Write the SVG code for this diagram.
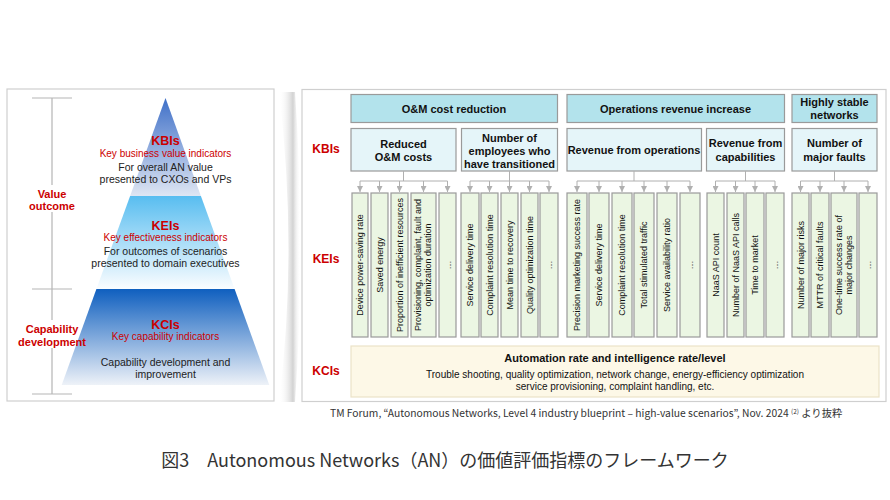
<svg xmlns="http://www.w3.org/2000/svg" width="890" height="500" viewBox="0 0 890 500">
<defs>
<style>
text{font-family:"Liberation Sans",Arial,sans-serif}
.panel{fill:#fff;stroke:#cfcfcf;stroke-width:1.2}
.red{fill:#cc0000}
.rb{fill:#cc0000;font-weight:bold}
.dk{fill:#222}
.h1{fill:#b3e3ec;stroke:#9a9a9a;stroke-width:1.2}
.h2{fill:#e5f5f9;stroke:#9a9a9a;stroke-width:1.2}
.col{fill:#ebf6e3;stroke:#9a9a9a;stroke-width:1.2}
.hb{font-size:11px;font-weight:bold;fill:#111;text-anchor:middle}
.ct{font-size:9px;fill:#111;text-anchor:middle}
.conn{fill:none;stroke:#b0b0b0;stroke-width:1}
.brk{stroke:#b5b5b5;stroke-width:1.2;fill:none}
</style>
<linearGradient id="gKBI" x1="0" y1="0" x2="0" y2="1"><stop offset="0" stop-color="#3f70c8"/><stop offset="1" stop-color="#dfe6f3"/></linearGradient>
<linearGradient id="gKEI" x1="0" y1="0" x2="0" y2="1"><stop offset="0" stop-color="#58bdf0"/><stop offset="1" stop-color="#fbfdff"/></linearGradient>
<linearGradient id="gKCI" x1="0" y1="0" x2="0" y2="1"><stop offset="0" stop-color="#0f5fbf"/><stop offset="1" stop-color="#eef2f8"/></linearGradient>
<linearGradient id="gSh" x1="0" y1="0" x2="1" y2="0"><stop offset="0" stop-color="#ffffff" stop-opacity="0"/><stop offset="0.65" stop-color="#d2d2d2"/><stop offset="1" stop-color="#ffffff" stop-opacity="0"/></linearGradient>
<marker id="arr" markerWidth="6" markerHeight="6" refX="6" refY="3" orient="auto" markerUnits="userSpaceOnUse" viewBox="0 0 6 6"><path d="M0,0 L6,3 L0,6 Z" fill="#b0b0b0"/></marker>
</defs>
<rect width="890" height="500" fill="#fff"/>

<!-- Left panel -->
<g id="left-panel">
<rect class="panel" x="7" y="89" width="267" height="312"/>
<g id="pyr-kbi">
<polygon points="165.5,98 200.9,196 130.1,196" fill="url(#gKBI)"/>
<text class="rb" font-size="12.5" x="165.5" y="144.5" text-anchor="middle">KBIs</text>
<text class="red" font-size="10" x="165.5" y="156.5" text-anchor="middle">Key business value indicators</text>
<text class="dk" font-size="10.5" x="165.5" y="170.5" text-anchor="middle">For overall AN value</text>
<text class="dk" font-size="10.5" x="165.5" y="182.5" text-anchor="middle">presented to CXOs and VPs</text>
</g>
<g id="pyr-kei">
<polygon points="130.1,196 200.9,196 234.6,289 96.4,289" fill="url(#gKEI)"/>
<text class="rb" font-size="12.5" x="165.5" y="229.5" text-anchor="middle">KEIs</text>
<text class="red" font-size="10" x="165.5" y="241" text-anchor="middle">Key effectiveness indicators</text>
<text class="dk" font-size="10.5" x="165.5" y="254.5" text-anchor="middle">For outcomes of  scenarios</text>
<text class="dk" font-size="10.5" x="165.5" y="266.5" text-anchor="middle">presented to domain executives</text>
</g>
<g id="pyr-kci">
<polygon points="96.4,289 234.6,289 269.3,385 61.7,385" fill="url(#gKCI)"/>
<text class="rb" font-size="12.5" x="165.5" y="329" text-anchor="middle">KCIs</text>
<text class="red" font-size="10" x="165.5" y="340" text-anchor="middle">Key capability indicators</text>
<text class="dk" font-size="10.5" x="165.5" y="365.5" text-anchor="middle">Capability development and</text>
<text class="dk" font-size="10.5" x="165.5" y="378" text-anchor="middle">improvement</text>
</g>
<g id="bracket">
<path class="brk" d="M52,98 V185 M52,212 V320 M52,348 V394"/>
<line class="brk" x1="32" y1="98" x2="72" y2="98"/>
<line class="brk" x1="32" y1="289" x2="72" y2="289"/>
<line class="brk" x1="32" y1="394" x2="72" y2="394"/>
<text class="rb" font-size="11" x="52" y="198" text-anchor="middle">Value</text>
<text class="rb" font-size="11" x="52" y="210" text-anchor="middle">outcome</text>
<text class="rb" font-size="11" x="52" y="333" text-anchor="middle">Capability</text>
<text class="rb" font-size="11" x="52" y="346" text-anchor="middle">development</text>
</g>
</g>

<!-- shadow between panels -->
<path d="M279,92 Q298,250 279,402 L295,402 Q306,250 295,92 Z" fill="url(#gSh)"/>

<!-- Right panel -->
<g id="right-panel">
<rect class="panel" x="302" y="89.5" width="584" height="312"/>
<text class="rb" font-size="12" x="326" y="152.5" text-anchor="middle">KBIs</text>
<text class="rb" font-size="12" x="326" y="262.5" text-anchor="middle">KEIs</text>
<text class="rb" font-size="12" x="326" y="375" text-anchor="middle">KCIs</text>
</g>

<g id="h-om">
<rect class="h1" x="351" y="94.5" width="206.5" height="28"/>
<text class="hb" x="454" y="112.5">O&amp;M cost reduction</text>
</g>
<g id="h-rev">
<rect class="h1" x="567" y="94.5" width="217.5" height="28"/>
<text class="hb" x="675.5" y="112.5">Operations revenue increase</text>
</g>
<g id="h-stable">
<rect class="h1" x="792" y="94.5" width="85" height="28"/>
<text class="hb" x="834.5" y="106">Highly stable</text>
<text class="hb" x="834.5" y="119">networks</text>
</g>

<g id="b-reduced">
<rect class="h2" x="351" y="128.5" width="105" height="42.5"/>
<text class="hb" x="403.5" y="148">Reduced</text>
<text class="hb" x="403.5" y="161">O&amp;M costs</text>
</g>
<g id="b-employees">
<rect class="h2" x="461.5" y="128.5" width="96" height="42.5"/>
<text class="hb" x="509.5" y="141.5">Number of</text>
<text class="hb" x="509.5" y="154.5">employees who</text>
<text class="hb" x="509.5" y="167.5">have transitioned</text>
</g>
<g id="b-revops">
<rect class="h2" x="567" y="128.5" width="134.5" height="42.5"/>
<text class="hb" x="634" y="154">Revenue from operations</text>
</g>
<g id="b-revcap">
<rect class="h2" x="706.5" y="128.5" width="78" height="42.5"/>
<text class="hb" x="745.5" y="147">Revenue from</text>
<text class="hb" x="745.5" y="160.5">capabilities</text>
</g>
<g id="b-faults">
<rect class="h2" x="792" y="128.5" width="85" height="42.5"/>
<text class="hb" x="834.5" y="147">Number of</text>
<text class="hb" x="834.5" y="160.5">major faults</text>
</g>

<!-- KEI columns -->
<g id="kei-1"><rect class="col" x="352" y="193" width="16" height="144"/><text class="ct" transform="translate(363.2,265) rotate(-90)">Device power-saving rate</text></g>
<g id="kei-2"><rect class="col" x="371" y="193" width="17" height="144"/><text class="ct" transform="translate(382.7,265) rotate(-90)">Saved energy</text></g>
<g id="kei-3"><rect class="col" x="391" y="193" width="17" height="144"/><text class="ct" transform="translate(402.7,265) rotate(-90)">Proportion of inefficient resources</text></g>
<g id="kei-4"><rect class="col" x="411" y="193" width="25" height="144"/><text class="ct" transform="translate(421,265) rotate(-90)">Provisioning, complaint, fault and</text><text class="ct" transform="translate(431,265) rotate(-90)">optimization duration</text></g>
<g id="kei-5"><rect class="col" x="439" y="193" width="17" height="144"/><text class="ct" transform="translate(450.7,265) rotate(-90)">…</text></g>

<g id="kei-6"><rect class="col" x="461" y="193" width="18" height="144"/><text class="ct" transform="translate(473.2,265) rotate(-90)">Service delivery time</text></g>
<g id="kei-7"><rect class="col" x="481" y="193" width="17" height="144"/><text class="ct" transform="translate(492.7,265) rotate(-90)">Complaint resolution time</text></g>
<g id="kei-8"><rect class="col" x="501" y="193" width="17" height="144"/><text class="ct" transform="translate(512.7,265) rotate(-90)">Mean time to recovery</text></g>
<g id="kei-9"><rect class="col" x="521" y="193" width="17" height="144"/><text class="ct" transform="translate(532.7,265) rotate(-90)">Quality optimization time</text></g>
<g id="kei-10"><rect class="col" x="540" y="193" width="18" height="144"/><text class="ct" transform="translate(552.2,265) rotate(-90)">…</text></g>

<g id="kei-11"><rect class="col" x="567" y="193" width="20" height="144"/><text class="ct" transform="translate(580.2,265) rotate(-90)">Precision marketing success rate</text></g>
<g id="kei-12"><rect class="col" x="589" y="193" width="20" height="144"/><text class="ct" transform="translate(602.2,265) rotate(-90)">Service delivery time</text></g>
<g id="kei-13"><rect class="col" x="612" y="193" width="20" height="144"/><text class="ct" transform="translate(625.2,265) rotate(-90)">Complaint resolution time</text></g>
<g id="kei-14"><rect class="col" x="634" y="193" width="20" height="144"/><text class="ct" transform="translate(647.2,265) rotate(-90)">Total stimulated traffic</text></g>
<g id="kei-15"><rect class="col" x="657" y="193" width="20" height="144"/><text class="ct" transform="translate(670.2,265) rotate(-90)">Service availability ratio</text></g>
<g id="kei-16"><rect class="col" x="680" y="193" width="20" height="144"/><text class="ct" transform="translate(693.2,265) rotate(-90)">…</text></g>

<g id="kei-17"><rect class="col" x="707" y="193" width="17" height="144"/><text class="ct" transform="translate(718.7,265) rotate(-90)">NaaS API count</text></g>
<g id="kei-18"><rect class="col" x="727" y="193" width="17" height="144"/><text class="ct" transform="translate(738.7,265) rotate(-90)">Number of NaaS API calls</text></g>
<g id="kei-19"><rect class="col" x="746" y="193" width="18" height="144"/><text class="ct" transform="translate(758.2,265) rotate(-90)">Time to market</text></g>
<g id="kei-20"><rect class="col" x="766" y="193" width="18" height="144"/><text class="ct" transform="translate(778.2,265) rotate(-90)">…</text></g>

<g id="kei-21"><rect class="col" x="792" y="193" width="17" height="144"/><text class="ct" transform="translate(803.7,265) rotate(-90)">Number of major risks</text></g>
<g id="kei-22"><rect class="col" x="811" y="193" width="18" height="144"/><text class="ct" transform="translate(823.2,265) rotate(-90)">MTTR of critical faults</text></g>
<g id="kei-23"><rect class="col" x="831" y="193" width="26" height="144"/><text class="ct" transform="translate(841.5,265) rotate(-90)">One-time success rate of</text><text class="ct" transform="translate(851.5,265) rotate(-90)">major changes</text></g>
<g id="kei-24"><rect class="col" x="859" y="193" width="18" height="144"/><text class="ct" transform="translate(871.2,265) rotate(-90)">…</text></g>

<!-- Connectors -->
<g id="connectors">
<path class="conn" d="M403.5,171 V181 M360,181 H447.5"/>
<path class="conn" d="M360,181 V192" marker-end="url(#arr)"/>
<path class="conn" d="M379.5,181 V192" marker-end="url(#arr)"/>
<path class="conn" d="M399.5,181 V192" marker-end="url(#arr)"/>
<path class="conn" d="M423.5,181 V192" marker-end="url(#arr)"/>
<path class="conn" d="M447.5,181 V192" marker-end="url(#arr)"/>

<path class="conn" d="M509.5,171 V181 M470,181 H549"/>
<path class="conn" d="M470,181 V192" marker-end="url(#arr)"/>
<path class="conn" d="M489.5,181 V192" marker-end="url(#arr)"/>
<path class="conn" d="M509.5,181 V192" marker-end="url(#arr)"/>
<path class="conn" d="M529.5,181 V192" marker-end="url(#arr)"/>
<path class="conn" d="M549,181 V192" marker-end="url(#arr)"/>

<path class="conn" d="M634,171 V181 M577,181 H690"/>
<path class="conn" d="M577,181 V192" marker-end="url(#arr)"/>
<path class="conn" d="M599,181 V192" marker-end="url(#arr)"/>
<path class="conn" d="M622,181 V192" marker-end="url(#arr)"/>
<path class="conn" d="M644,181 V192" marker-end="url(#arr)"/>
<path class="conn" d="M667,181 V192" marker-end="url(#arr)"/>
<path class="conn" d="M690,181 V192" marker-end="url(#arr)"/>

<path class="conn" d="M745.5,171 V181 M715.5,181 H775"/>
<path class="conn" d="M715.5,181 V192" marker-end="url(#arr)"/>
<path class="conn" d="M735.5,181 V192" marker-end="url(#arr)"/>
<path class="conn" d="M755,181 V192" marker-end="url(#arr)"/>
<path class="conn" d="M775,181 V192" marker-end="url(#arr)"/>

<path class="conn" d="M834.5,171 V181 M800.5,181 H868"/>
<path class="conn" d="M800.5,181 V192" marker-end="url(#arr)"/>
<path class="conn" d="M820,181 V192" marker-end="url(#arr)"/>
<path class="conn" d="M844,181 V192" marker-end="url(#arr)"/>
<path class="conn" d="M868,181 V192" marker-end="url(#arr)"/>
</g>

<!-- KCI box -->
<g id="kci-box">
<rect x="351" y="346" width="528" height="51" fill="#fdf8e7" stroke="#ebe3c8" stroke-width="1.2"/>
<text x="615" y="361.5" font-size="11" font-weight="bold" fill="#111" text-anchor="middle">Automation rate and intelligence rate/level</text>
<text x="615" y="377.5" font-size="10" fill="#111" text-anchor="middle">Trouble shooting, quality optimization, network change, energy-efficiency optimization</text>
<text x="615" y="390" font-size="10" fill="#111" text-anchor="middle">service provisioning, complaint handling, etc.</text>
</g>

<!-- Caption -->
<text x="330" y="417" font-size="10.3" fill="#333" style="font-family:'Noto Sans CJK JP','Liberation Sans',sans-serif">TM Forum, “Autonomous Networks, Level 4 industry blueprint – high-value scenarios”, Nov. 2024 <tspan font-size="6.5" dy="-3">(2)</tspan><tspan dy="3"> より抜粋</tspan></text>

<!-- Title -->
<text x="445" y="467" font-size="18" fill="#333" text-anchor="middle" style="font-family:'Noto Sans CJK JP','Noto Sans',sans-serif">図3　Autonomous Networks（AN）の価値評価指標のフレームワーク</text>
</svg>
